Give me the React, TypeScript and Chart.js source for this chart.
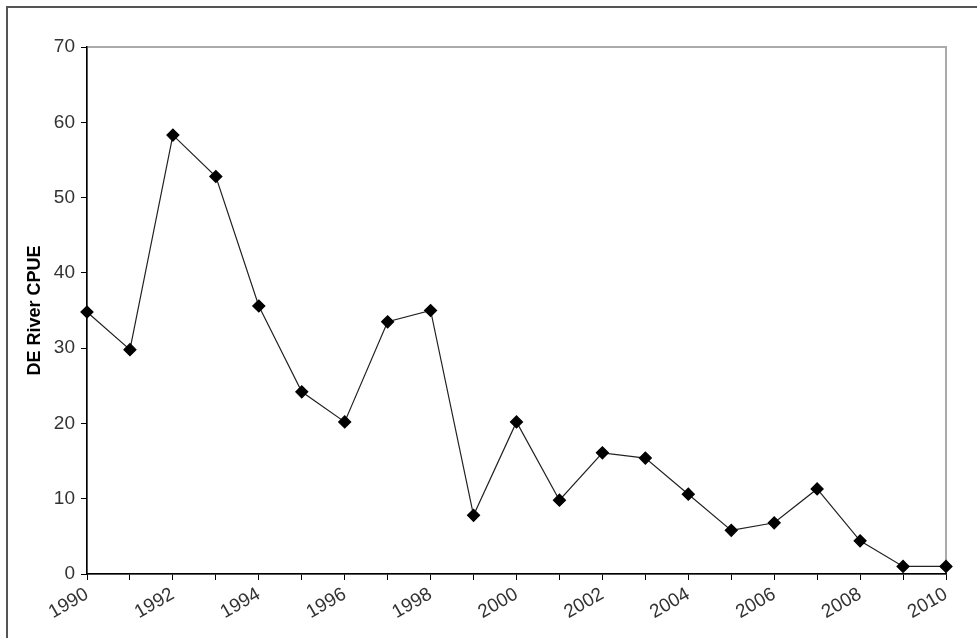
import Chart from "chart.js/auto";
import { useEffect, useRef } from "react";

const years = ["1990","1991","1992","1993","1994","1995","1996","1997","1998","1999","2000","2001","2002","2003","2004","2005","2006","2007","2008","2009","2010"];
const cpue = [34.8, 29.8, 58.3, 52.8, 35.6, 24.2, 20.2, 33.5, 35.0, 7.8, 20.2, 9.8, 16.1, 15.4, 10.6, 5.8, 6.8, 11.3, 4.4, 1.0, 1.0];

const areaBox = {
    id: "areaBox",
    beforeDraw(chart: any) {
        const { ctx, chartArea: a } = chart;
        ctx.save();
        ctx.strokeStyle = "#aaaaaa";
        ctx.lineWidth = 2;
        ctx.strokeRect(a.left, a.top, a.right - a.left, a.bottom - a.top);
        ctx.restore();
    },
};

export default function App() {
    const canvasRef = useRef<HTMLCanvasElement | null>(null);

    useEffect(() => {
        if (!canvasRef.current) return;
        const ctx = canvasRef.current.getContext("2d");
        if (!ctx) return;

        const chart = new Chart(ctx, {
            type: "line",
            data: {
                labels: years,
                datasets: [
                    {
                        data: cpue,
                        borderColor: "#222222",
                        borderWidth: 1.2,
                        pointStyle: "rectRot",
                        pointRadius: 6,
                        pointBackgroundColor: "#000000",
                        pointBorderColor: "#000000",
                        tension: 0,
                    },
                ],
            },
            options: {
                responsive: false,
                animation: false,
                layout: { padding: { left: 0, top: 47, right: 31, bottom: 0 } },
                plugins: { legend: { display: false }, tooltip: { enabled: false } },
                scales: {
                    x: {
                        offset: false,
                        afterFit: (s: any) => { s.height = 64; },
                        grid: { drawOnChartArea: false, tickLength: 6, color: "#000" },
                        border: { color: "#000", width: 1.5 },
                        ticks: {
                            autoSkip: false,
                            minRotation: 30,
                            maxRotation: 30,
                            color: "#333",
                            font: { family: "Liberation Sans", size: 19 },
                            callback: (v: any, i: number) => (i % 2 === 0 ? years[i] : ""),
                        },
                    },
                    y: {
                        min: 0,
                        max: 70,
                        afterFit: (s: any) => { s.width = 87; },
                        grid: { drawOnChartArea: false, tickLength: 6, color: "#000" },
                        border: { color: "#000", width: 1.5 },
                        ticks: {
                            stepSize: 10,
                            color: "#333",
                            padding: 6,
                            font: { family: "Liberation Sans", size: 19 },
                        },
                        title: {
                            display: true,
                            text: "DE River CPUE",
                            color: "#000",
                            padding: { top: 24, bottom: 0 },
                            font: { family: "Liberation Sans", size: 18, weight: "bold" },
                        },
                    },
                },
            },
            plugins: [areaBox],
        });
        return () => {
            chart.destroy();
        };
    }, []);

    return (
        <div style={{ position: "absolute", left: 0, top: 0, width: 977, height: 638, background: "#fff" }}>
            <div style={{ position: "absolute", left: 6, top: 6, width: 971, height: 632, borderTop: "2px solid #555", borderLeft: "2px solid #555", boxSizing: "border-box" }} />
            <canvas ref={canvasRef} width={977} height={638} style={{ position: "absolute", left: 0, top: 0 }}></canvas>
        </div>
    );
}
